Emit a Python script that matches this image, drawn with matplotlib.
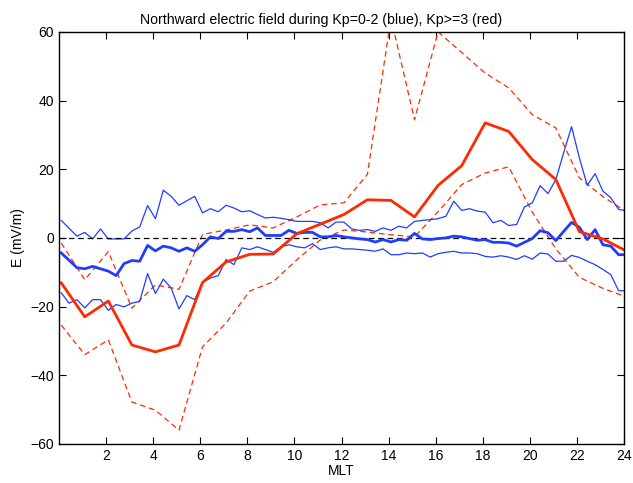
import matplotlib
matplotlib.use('Agg')
import matplotlib.pyplot as plt
import numpy as np

plt.rcParams['font.family'] = ['Liberation Sans', 'DejaVu Sans']
plt.rcParams['font.size'] = 10

# Kp=0-2 (blue), 20-min MLT bins
blue_mlt = np.append(np.arange(72) / 3 + 0.1, 24)
blue_upper = [5.1, 2.8, 0.5, 1.6, -0.3, 2.6, -0.3, -0.3, -0.3, 2.0, 3.2, 9.4,
              5.6, 13.9, 12.1, 9.5, 10.8, 12.1, 7.3, 8.5, 7.6, 9.5, 8.7, 7.6,
              7.9, 6.8, 5.8, 6.0, 5.7, 5.3, 4.8, 4.8, 4.8, 4.4, 2.9, 4.6,
              4.6, 2.6, 2.2, 2.4, 1.9, 2.9, 2.2, 3.4, 2.9, 4.8, 5.1, 5.3,
              5.6, 6.3, 10.7, 8.0, 8.5, 7.8, 7.5, 4.4, 5.1, 3.6, 3.9, 9.0,
              10.2, 15.2, 12.9, 17.0, 24.8, 32.4, 23.3, 15.3, 18.7, 13.6, 11.7, 8.3,
              8.0]
blue_mean = [-4.4, -6.5, -8.7, -9.0, -8.3, -9.0, -9.7, -11.0, -7.5, -6.6, -6.8, -2.2,
             -3.8, -2.4, -2.9, -3.9, -2.9, -3.9, -2.0, 0.3, -0.2, 1.9, 1.9, 2.4,
             1.8, 2.9, 0.7, 0.7, 0.7, 2.2, 1.3, 1.6, 1.6, 0.3, 0.3, 0.7,
             0.3, 0.0, -0.3, -0.5, -1.2, -0.5, -1.2, -0.5, -0.7, 1.3, -0.3, -0.5,
             -0.2, 0.0, 0.5, 0.3, -0.2, -0.7, -0.5, -1.3, -1.3, -1.5, -2.4, -1.3,
             -0.2, 2.1, 1.5, -0.8, 1.9, 4.5, 3.1, -0.5, 2.4, -2.0, -2.4, -4.9,
             -4.9]
blue_lower = [-16.0, -19.0, -18.0, -20.4, -18.0, -18.0, -21.1, -19.4, -20.1, -19.0, -18.5, -10.4,
              -16.2, -12.0, -14.6, -20.7, -16.8, -18.0, -12.9, -11.7, -11.0, -6.3, -7.8, -2.9,
              -3.4, -2.6, -3.4, -4.2, -2.6, -2.0, -2.6, -2.9, -1.7, -3.4, -2.9, -2.6,
              -3.2, -3.2, -3.4, -3.6, -3.9, -3.2, -4.9, -4.9, -4.4, -4.6, -4.4, -5.6,
              -4.6, -4.2, -3.9, -4.4, -4.4, -4.6, -5.4, -5.6, -5.2, -5.6, -6.3, -5.2,
              -6.2, -4.4, -4.7, -6.8, -6.8, -5.1, -5.7, -6.8, -7.8, -9.2, -10.7, -15.4,
              -15.4]

# Kp>=3 (red), hourly MLT bins
red_mlt = np.append(np.arange(24) + 0.1, 24)
red_upper = [-1.5, -12.2, -4.0, -20.5, -13.7, -15.0, 1.0, 2.3, 3.8, 2.9, 6.1, 9.6,
             10.2, 18.5, 64.0, 34.4, 60.0, 54.0, 48.0, 43.7, 35.9, 32.0, 17.5, 12.0,
             8.0]
red_mean = [-13.1, -23.0, -18.4, -31.2, -33.2, -31.2, -13.0, -7.0, -4.8, -4.7, 1.2, 4.0,
            6.8, 11.1, 10.9, 6.1, 15.3, 21.0, 33.5, 31.0, 22.8, 17.0, 1.8, -0.3,
            -3.5]
red_lower = [-25.4, -34.0, -29.7, -47.8, -50.2, -56.0, -31.7, -24.8, -15.5, -12.8, -6.4, -0.6,
             2.3, 1.7, 0.9, 0.3, 7.6, 15.5, 18.9, 20.7, 7.5, -3.2, -11.5, -14.7,
             -17.0]

blue = '#1f3dff'
red = '#ff2a00'
dash = (4.5, 3)

fig = plt.figure(figsize=(6.33, 4.83), dpi=100)
ax = fig.add_axes([0.093, 0.081, 0.893, 0.853])

ax.plot(red_mlt, red_upper, '--', color=red, lw=0.9, dashes=dash)
ax.plot(red_mlt, red_lower, '--', color=red, lw=0.9, dashes=dash)
ax.plot(blue_mlt, blue_upper, '-', color=blue, lw=0.9)
ax.plot(blue_mlt, blue_lower, '-', color=blue, lw=0.9)
ax.plot([0, 24], [0, 0], '--', color='k', lw=0.9, dashes=dash)
ax.plot(blue_mlt, blue_mean, '-', color=blue, lw=2.0)
ax.plot(red_mlt, red_mean, '-', color=red, lw=2.0)

ax.set_xlim(0, 24)
ax.set_ylim(-60, 60)
ax.set_xticks(range(2, 25, 2))
ax.set_yticks(range(-60, 61, 20))
ax.tick_params(direction='in', top=True, right=True, length=5, width=0.8)
for s in ax.spines.values():
    s.set_linewidth(1.0)

ax.set_xlabel('MLT', labelpad=1)
ax.set_ylabel('E (mV/m)', labelpad=4)
ax.set_title('Northward electric field during Kp=0-2 (blue), Kp>=3 (red)',
             fontsize=10.2, pad=6, x=0.464)

fig.savefig('out.png', dpi=100)
